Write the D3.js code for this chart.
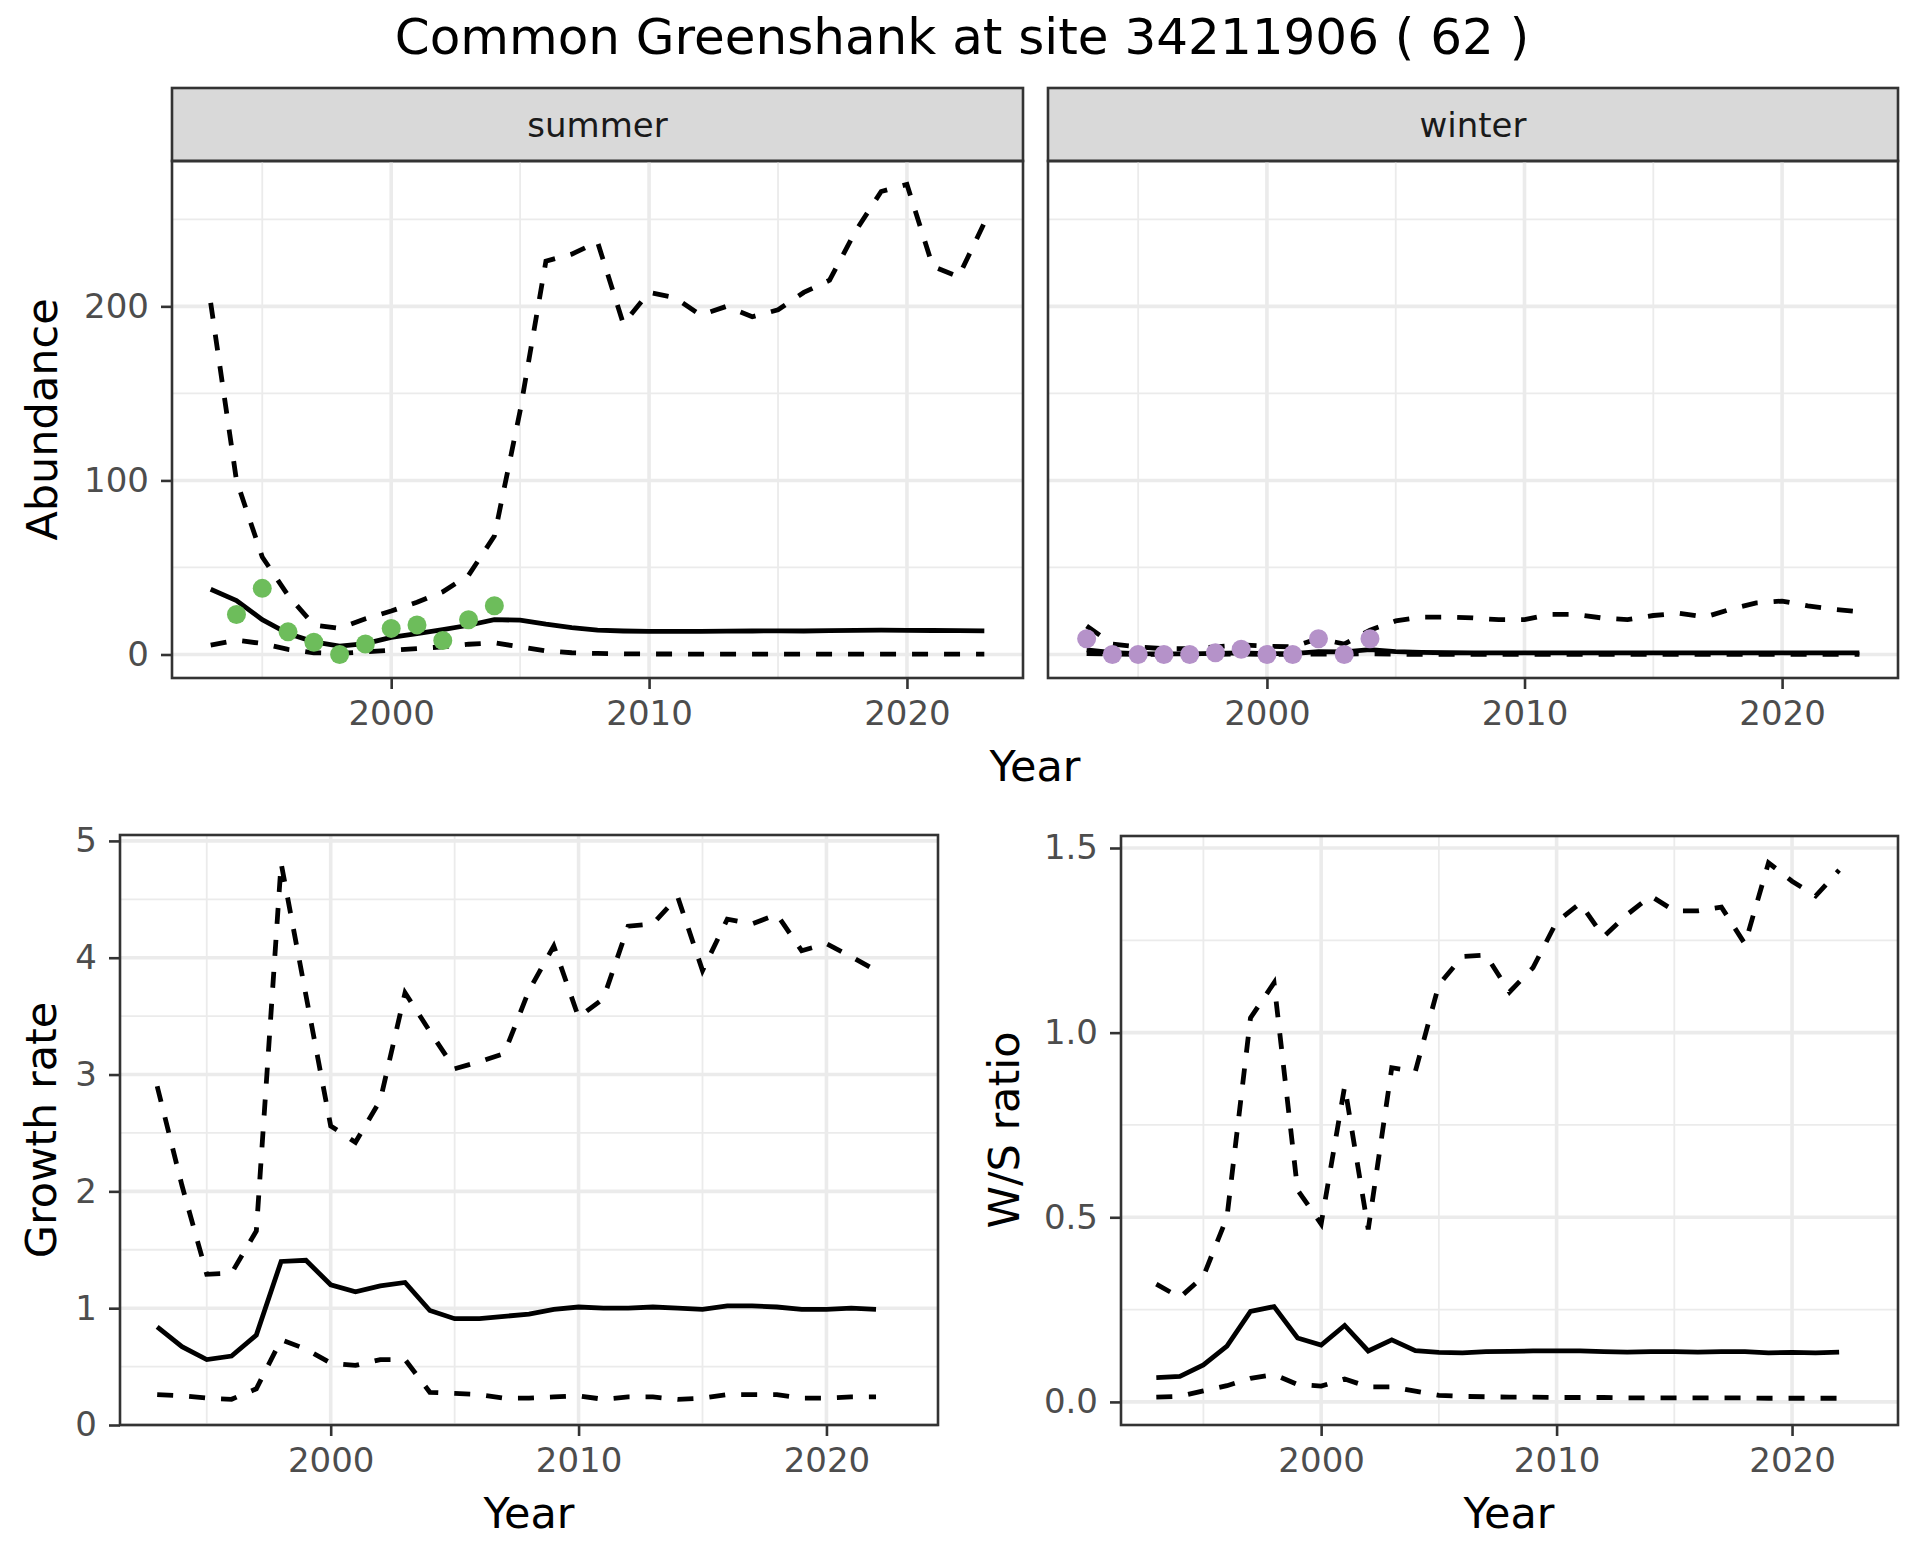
<!DOCTYPE html>
<html>
<head>
<meta charset="utf-8">
<script src="https://cdn.jsdelivr.net/npm/d3@7"></script>
<style>
  body { margin: 0; background: #fff; }
  text { font-family: "DejaVu Sans", sans-serif; }
</style>
</head>
<body>
<div id="my_dataviz"></div>
<script>

// years of the abundance panels (1993 - 2023)
var years = [1993, 1994, 1995, 1996, 1997, 1998, 1999, 2000, 2001, 2002, 2003, 2004, 2005, 2006, 2007, 2008,
             2009, 2010, 2011, 2012, 2013, 2014, 2015, 2016, 2017, 2018, 2019, 2020, 2021, 2022, 2023];
// years of growth rate / ratio panels (1993 - 2022)
var yearsRate = years.slice(0, 30);

// summer abundance
var summerMean = [37.5, 31, 20, 12, 7.3, 4.8, 6.3, 9.8, 12, 14.3, 16.8, 20, 19.7, 17.4, 15.5, 14,
                  13.5, 13.3, 13.3, 13.3, 13.4, 13.5, 13.6, 13.5, 13.7, 13.9, 14, 13.9, 13.8, 13.7, 13.6];
var summerLo = [5.4, 8.2, 6.3, 2.9, 1, 0.6, 1.5, 2.5, 3.4, 4.4, 5.9, 6.7, 4.4, 2.1, 1, 0.6,
                0.4, 0.3, 0.3, 0.2, 0.2, 0.2, 0.2, 0.2, 0.2, 0.2, 0.2, 0.2, 0.2, 0.2, 0.2];
var summerHi = [202, 100, 56, 34, 17, 15, 20.5, 25, 30, 36, 45.5, 68, 140, 226, 230, 237,
                190, 208, 205, 195, 200, 194, 198, 208, 215, 243, 266, 270, 223, 217, 248];
var summerObsYears = [1994, 1995, 1996, 1997, 1998, 1999, 2000, 2001, 2002, 2003, 2004];
var summerObs = [23, 38, 13, 7, 0, 6, 15, 17, 8, 20, 28];

// winter abundance
var winterMean = [2.6, 1.1, 0.5, 0.4, 0.4, 0.6, 0.9, 0.5, 0.5, 1.7, 1.5, 2.8, 1.7, 1.2, 1.0, 0.9,
                  0.9, 0.9, 0.9, 0.9, 0.9, 0.9, 0.9, 0.9, 0.9, 0.9, 0.9, 0.9, 0.9, 0.9, 0.9];
var winterLo = [0.5, 0.2, 0.1, 0.1, 0.1, 0.1, 0.2, 0.1, 0.1, 0.3, 0.2, 0.4, 0.2, 0.1, 0.1, 0.1,
                0.1, 0.1, 0.1, 0.1, 0.1, 0.1, 0.1, 0.1, 0.1, 0.1, 0.1, 0.1, 0.1, 0.1, 0.1];
var winterHi = [16.4, 6, 4.4, 3.3, 3.3, 4.4, 5.5, 4.8, 4.4, 9.2, 6, 14, 19.3, 21.5, 21.5, 21,
                20, 20, 23, 23, 21, 20, 22.4, 23.7, 21.5, 26, 29.6, 30.7, 28, 26, 24.6];
var winterObsYears = [1993, 1994, 1995, 1996, 1997, 1998, 1999, 2000, 2001, 2002, 2003, 2004];
var winterObs = [9, 0, 0, 0, 0, 1, 3, 0, 0, 9, 0, 9];

// growth rate
var growthMean = [0.84, 0.67, 0.56, 0.59, 0.77, 1.40, 1.41, 1.20, 1.14, 1.19, 1.22, 0.98, 0.91, 0.91, 0.93,
                  0.95, 0.99, 1.01, 1.0, 1.0, 1.01, 1.0, 0.99, 1.02, 1.02, 1.01, 0.99, 0.99, 1.0, 0.99];
var growthLo = [0.26, 0.25, 0.23, 0.22, 0.31, 0.73, 0.65, 0.53, 0.51, 0.56, 0.56, 0.28, 0.27, 0.26, 0.23,
                0.23, 0.24, 0.25, 0.22, 0.24, 0.24, 0.22, 0.23, 0.26, 0.26, 0.26, 0.23, 0.23, 0.24, 0.24];
var growthHi = [2.9, 2.05, 1.29, 1.3, 1.66, 4.81, 3.68, 2.56, 2.42, 2.78, 3.7, 3.37, 3.05, 3.11, 3.18,
                3.72, 4.1, 3.49, 3.65, 4.27, 4.29, 4.52, 3.89, 4.33, 4.29, 4.37, 4.06, 4.12, 4.01, 3.89];

// W/S ratio
var ratioMean = [0.066, 0.069, 0.10, 0.151, 0.245, 0.258, 0.173, 0.154, 0.207, 0.138, 0.168, 0.139, 0.134, 0.133, 0.136,
                 0.137, 0.138, 0.138, 0.138, 0.136, 0.135, 0.136, 0.136, 0.135, 0.136, 0.136, 0.133, 0.134, 0.133, 0.135];
var ratioLo = [0.013, 0.015, 0.03, 0.044, 0.064, 0.074, 0.047, 0.043, 0.062, 0.041, 0.041, 0.029, 0.018, 0.015, 0.014,
               0.013, 0.013, 0.012, 0.012, 0.012, 0.011, 0.011, 0.011, 0.011, 0.011, 0.011, 0.010, 0.010, 0.010, 0.010];
var ratioHi = [0.319, 0.283, 0.34, 0.50, 1.04, 1.135, 0.574, 0.482, 0.855, 0.467, 0.905, 0.895, 1.13, 1.206, 1.21,
               1.11, 1.176, 1.30, 1.35, 1.26, 1.32, 1.37, 1.33, 1.33, 1.34, 1.24, 1.46, 1.41, 1.37, 1.44];

// ticks
var xMajor = [2000, 2010, 2020], xMinor = [1995, 2005, 2015];
var abMajor = [0, 100, 200], abMinor = [50, 150, 250];
var grMajor = [0, 1, 2, 3, 4, 5], grMinor = [0.5, 1.5, 2.5, 3.5, 4.5];
var raMajor = [0, 0.5, 1, 1.5], raMinor = [0.25, 0.75, 1.25];

var title = "Common Greenshank at site 34211906 ( 62 )";

var width = 1920, height = 1560;
var svg = d3.select("#my_dataviz").append("svg")
            .attr("width", width).attr("height", height);
svg.append("rect").attr("width", width).attr("height", height).attr("fill", "#fff");

// ggplot-like expansion of 5%
function expand(lo, hi) { var r = hi - lo; return [lo - 0.05 * r, hi + 0.05 * r]; }

var xDom = expand(d3.min(years), d3.max(years));

function pairs(xs, ys) { return xs.map(function (d, i) { return [d, ys[i]]; }); }

// draws one panel: grid, lines, points, border, axes
function panel(box, yDom, yMajor, yMinor, yFmt, series, pts, ptColor, showY) {
  var g = svg.append("g").attr("transform", "translate(" + box.x + "," + box.y + ")");
  var x = d3.scaleLinear().domain(xDom).range([0, box.w]);
  var y = d3.scaleLinear().domain(yDom).range([box.h, 0]);

  g.selectAll(".ymin").data(yMinor).enter().append("line")
    .attr("x1", 0).attr("x2", box.w).attr("y1", y).attr("y2", y)
    .style("stroke", "#EBEBEB").style("stroke-width", 1.8);
  g.selectAll(".xmin").data(xMinor).enter().append("line")
    .attr("y1", 0).attr("y2", box.h).attr("x1", x).attr("x2", x)
    .style("stroke", "#EBEBEB").style("stroke-width", 1.8);
  g.selectAll(".ymaj").data(yMajor).enter().append("line")
    .attr("x1", 0).attr("x2", box.w).attr("y1", y).attr("y2", y)
    .style("stroke", "#EBEBEB").style("stroke-width", 3.6);
  g.selectAll(".xmaj").data(xMajor).enter().append("line")
    .attr("y1", 0).attr("y2", box.h).attr("x1", x).attr("x2", x)
    .style("stroke", "#EBEBEB").style("stroke-width", 3.6);

  var line = d3.line().x(function (d) { return x(d[0]); }).y(function (d) { return y(d[1]); });
  series.forEach(function (s) {
    g.append("path").datum(s.data).attr("d", line)
      .style("fill", "none").style("stroke", "#000").style("stroke-width", 4.8)
      .style("stroke-dasharray", s.dash ? "16,16" : null);
  });

  if (pts) {
    g.selectAll(".pt").data(pts).enter().append("circle")
      .attr("cx", function (d) { return x(d[0]); })
      .attr("cy", function (d) { return y(d[1]); })
      .attr("r", 9.5).style("fill", ptColor);
  }

  g.append("rect").attr("width", box.w).attr("height", box.h)
    .style("fill", "none").style("stroke", "#333").style("stroke-width", 2.6);

  var ax = g.append("g").attr("transform", "translate(0," + box.h + ")")
    .call(d3.axisBottom(x).tickValues(xMajor).tickFormat(d3.format("d")).tickSize(11).tickPadding(12));
  styleAxis(ax);
  if (showY) {
    var ay = g.append("g")
      .call(d3.axisLeft(y).tickValues(yMajor).tickFormat(yFmt).tickSize(11).tickPadding(12));
    styleAxis(ay);
  }
}

function styleAxis(a) {
  a.select(".domain").remove();
  a.selectAll("line").style("stroke", "#333").style("stroke-width", 2.6);
  a.selectAll("text").style("fill", "#4D4D4D").style("font-size", "34px")
    .style("font-family", "DejaVu Sans, sans-serif");
}

function label(txt, x, y, size, rot) {
  svg.append("text").attr("transform", "translate(" + x + "," + y + ")" + (rot ? " rotate(-90)" : ""))
    .attr("text-anchor", "middle").style("font-size", size + "px").style("fill", "#000").text(txt);
}

// top row: facets summer / winter
var abDom = expand(0, d3.max(summerHi.concat(winterHi)));
var boxS = {x: 172, y: 161, w: 851, h: 517};
var boxW = {x: 1048, y: 161, w: 850, h: 517};

[[boxS, "summer"], [boxW, "winter"]].forEach(function (b) {
  svg.append("rect").attr("x", b[0].x).attr("y", 88).attr("width", b[0].w).attr("height", 73)
    .style("fill", "#D9D9D9").style("stroke", "#333").style("stroke-width", 2.6);
  svg.append("text").attr("x", b[0].x + b[0].w / 2).attr("y", 125.5).attr("dy", "0.35em")
    .attr("text-anchor", "middle").style("font-size", "34px").style("fill", "#1A1A1A").text(b[1]);
});

panel(boxS, abDom, abMajor, abMinor, d3.format("d"),
  [{data: pairs(years, summerHi), dash: true}, {data: pairs(years, summerLo), dash: true},
   {data: pairs(years, summerMean), dash: false}],
  pairs(summerObsYears, summerObs), "#6DBD5B", true);

panel(boxW, abDom, abMajor, abMinor, d3.format("d"),
  [{data: pairs(years, winterHi), dash: true}, {data: pairs(years, winterLo), dash: true},
   {data: pairs(years, winterMean), dash: false}],
  pairs(winterObsYears, winterObs), "#B592C9", false);

// bottom row
var boxG = {x: 120, y: 835, w: 818, h: 590};
var boxR = {x: 1121, y: 836, w: 777, h: 589};

panel(boxG, [0, d3.max(growthHi) * 1.05], grMajor, grMinor, d3.format("d"),
  [{data: pairs(yearsRate, growthHi), dash: true}, {data: pairs(yearsRate, growthLo), dash: true},
   {data: pairs(yearsRate, growthMean), dash: false}], null, null, true);

panel(boxR, expand(d3.min(ratioLo), d3.max(ratioHi)), raMajor, raMinor, d3.format(".1f"),
  [{data: pairs(yearsRate, ratioHi), dash: true}, {data: pairs(yearsRate, ratioLo), dash: true},
   {data: pairs(yearsRate, ratioMean), dash: false}], null, null, true);

// titles
label(title, 962, 54, 50, false);
label("Abundance", 57, 419.5, 43, true);
label("Year", 1035, 781, 43, false);
label("Growth rate", 56, 1130, 43, true);
label("Year", 529, 1528, 43, false);
label("W/S ratio", 1019, 1130, 43, true);
label("Year", 1509, 1528, 43, false);

</script>
</body>
</html>
